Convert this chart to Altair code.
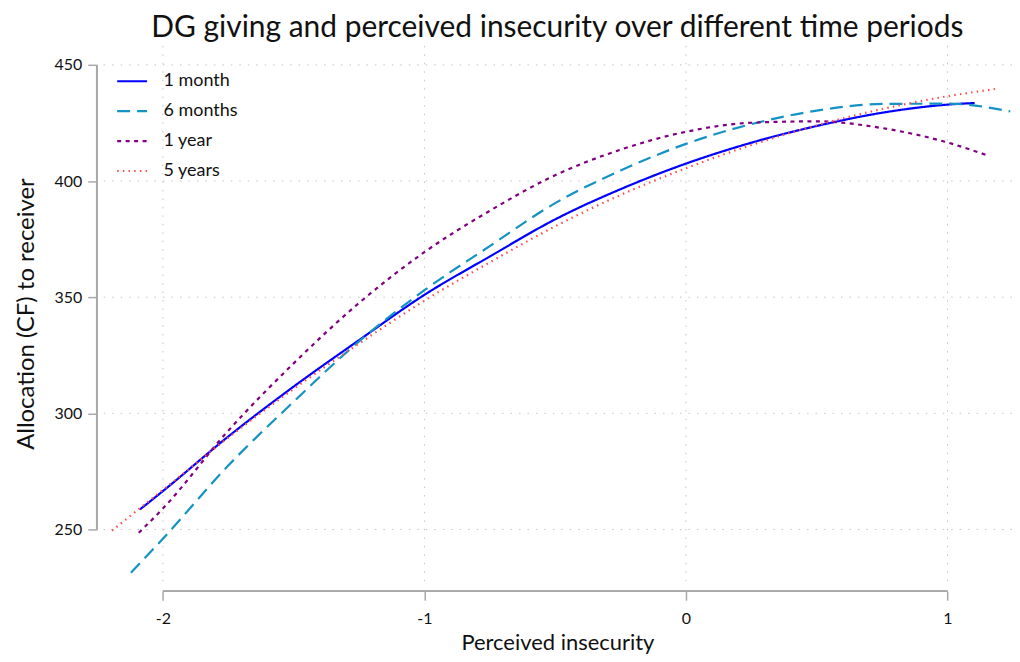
import altair as alt
import pandas as pd

# ---- data ----
series_names = ["1 month", "6 months", "1 year", "5 years"]

x_1m = [-2.088, -2.0, -1.75, -1.5, -1.25, -1.0, -0.75, -0.5, -0.25, 0.0, 0.25, 0.5, 0.75, 1.0, 1.104]
y_1m = [258.6, 266.5, 290.0, 311.5, 331.5, 351.0, 367.5, 383.5, 396.5, 407.5, 416.5, 423.7, 429.4, 432.9, 433.6]

x_6m = [-2.122, -2.0, -1.75, -1.5, -1.25, -1.0, -0.75, -0.5, -0.25, 0.0, 0.25, 0.5, 0.75, 1.0, 1.24]
y_6m = [231.4, 246.0, 277.5, 305.0, 331.0, 353.0, 372.0, 390.5, 404.5, 416.0, 424.5, 430.3, 433.2, 433.3, 430.0]

x_1y = [-2.092, -2.0, -1.75, -1.5, -1.25, -1.0, -0.75, -0.5, -0.25, 0.0, 0.25, 0.5, 0.75, 1.0, 1.149]
y_1y = [248.6, 259.0, 292.5, 321.5, 347.5, 369.4, 387.2, 402.5, 413.5, 421.2, 425.1, 425.7, 422.8, 416.6, 411.2]

x_5y = [-2.195, -2.0, -1.75, -1.5, -1.25, -1.0, -0.75, -0.5, -0.25, 0.0, 0.25, 0.5, 0.75, 1.0, 1.193]
y_5y = [249.5, 267.0, 289.5, 310.5, 330.0, 348.5, 365.0, 380.5, 394.0, 405.5, 415.5, 424.0, 431.0, 436.5, 439.8]

x_ticks = [-2, -1, 0, 1]
y_ticks = [250, 300, 350, 400, 450]

title_text = "DG giving and perceived insecurity over different time periods"
x_title = "Perceived insecurity"
y_title = "Allocation (CF) to receiver"

# ---- build tables ----
rows = []
for name, xs, ys in zip(series_names, [x_1m, x_6m, x_1y, x_5y], [y_1m, y_6m, y_1y, y_5y]):
    for i, (xv, yv) in enumerate(zip(xs, ys)):
        rows.append({"series": name, "x": xv, "y": yv, "order": i})
df = pd.DataFrame(rows)
df_xt = pd.DataFrame({"x": x_ticks})
df_yt = pd.DataFrame({"y": y_ticks})

W, H = 912, 537
FONT = "Lato"
GRID = "#c4c4c4"
AXC = "#a8a8a8"
TXT = "#111111"

xscale = alt.Scale(domain=[-2.23, 1.2467], nice=False, zero=False)
yscale = alt.Scale(domain=[227.7, 458.2], nice=False, zero=False)

x_axis = alt.Axis(values=x_ticks, grid=False, domain=False, tickSize=9, tickColor=AXC,
                  tickWidth=1.5, offset=10, labelFontSize=16, labelFont=FONT, labelColor=TXT,
                  labelPadding=10, labelExpr="datum.value + ''", title=x_title, titleFont=FONT,
                  titleFontSize=22, titleFontWeight="normal", titleColor=TXT, titlePadding=6)
y_axis = alt.Axis(values=y_ticks, grid=False, domain=False, tickSize=9, tickColor=AXC,
                  tickWidth=1.5, offset=6, labelFontSize=16, labelFont=FONT, labelColor=TXT,
                  labelPadding=6, title=y_title, titleFont=FONT, titleFontSize=24,
                  titleFontWeight="normal", titleColor=TXT, titlePadding=16)

grid_h = alt.Chart(df_yt).mark_rule(color=GRID, strokeWidth=1, strokeDash=[1.5, 7]).encode(
    y=alt.Y("y:Q", scale=yscale, axis=y_axis)
)
grid_v = alt.Chart(df_xt).mark_rule(color=GRID, strokeWidth=1, strokeDash=[1.5, 7]).encode(
    x=alt.X("x:Q", scale=xscale, axis=x_axis)
)

y_line = alt.Chart(df_yt).mark_rule(color=AXC, strokeWidth=1.5).encode(
    y=alt.Y(datum=y_ticks[0], scale=yscale, axis=y_axis),
    y2=alt.Y2(datum=y_ticks[-1]),
    x=alt.value(-6),
)
x_line = alt.Chart(df_xt).mark_rule(color=AXC, strokeWidth=1.5).encode(
    x=alt.X(datum=x_ticks[0], scale=xscale, axis=x_axis),
    x2=alt.X2(datum=x_ticks[-1]),
    y=alt.value(H + 10),
)

lines = alt.Chart(df).mark_line(interpolate="monotone").encode(
    x=alt.X("x:Q", scale=xscale, axis=x_axis),
    y=alt.Y("y:Q", scale=yscale, axis=y_axis),
    order="order:Q",
    color=alt.Color("series:N", scale=alt.Scale(domain=series_names,
                    range=["#0000ff", "#1592c4", "#800080", "#ff4d4d"]),
                    legend=alt.Legend(title=None)),
    strokeDash=alt.StrokeDash("series:N", scale=alt.Scale(domain=series_names,
                    range=[[1, 0], [13, 7], [4, 4.5], [1.5, 4.2]]),
                    legend=alt.Legend(title=None)),
    strokeWidth=alt.StrokeWidth("series:N", scale=alt.Scale(domain=series_names,
                    range=[2.2, 2.2, 2.6, 1.5]),
                    legend=alt.Legend(title=None)),
)

chart = alt.layer(grid_h, grid_v, y_line, x_line, lines).properties(
    width=W, height=H,
    title=alt.TitleParams(title_text, font=FONT, fontSize=30, fontWeight="normal",
                          color=TXT, anchor="middle", offset=2),
    autosize=alt.AutoSizeParams(type="none"),
    padding={"left": 95, "top": 37, "right": 0, "bottom": 72},
).configure_view(stroke=None).configure_legend(
    orient="none", legendX=13, legendY=19, symbolType="stroke", symbolSize=900,
    labelFont=FONT, labelFontSize=18, labelColor=TXT, labelOffset=15,
    rowPadding=4, padding=0, symbolStrokeWidth=2,
)

chart.save("out.html", embed_options={"renderer": "svg", "actions": False})
